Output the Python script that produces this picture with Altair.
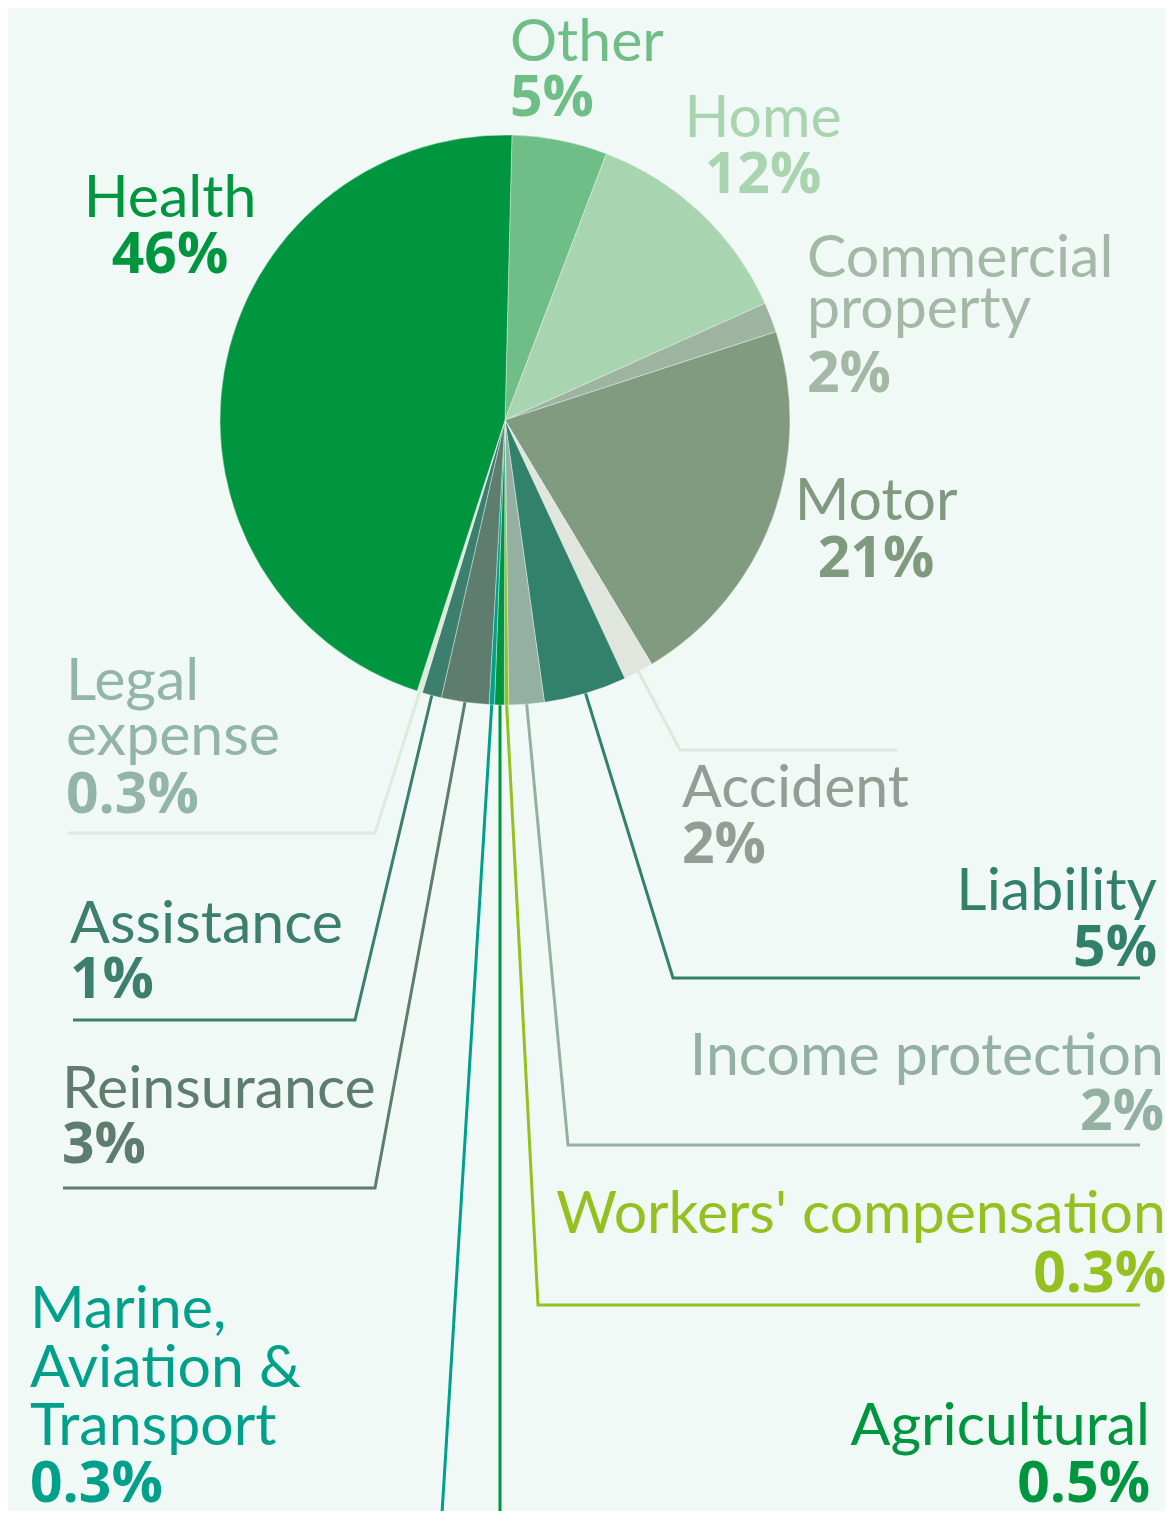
import math
import altair as alt
import pandas as pd

# ---- data ----
categories = ["Other", "Home", "Commercial property", "Motor", "Accident", "Liability",
              "Income protection", "Workers' compensation", "Agricultural",
              "Marine, Aviation & Transport", "Reinsurance", "Assistance",
              "Legal expense", "Health"]
# slice sizes as measured on the picture (sum ~100)
shares = [5.4, 12.5, 1.7, 21.4, 1.7, 4.7, 2.0, 0.25, 0.55, 0.3, 2.7, 1.1, 0.3, 45.4]
share_labels = ["5%", "12%", "2%", "21%", "2%", "5%", "2%", "0.3%", "0.5%", "0.3%",
                "3%", "1%", "0.3%", "46%"]
name_lines = [["Other"], ["Home"], ["Commercial", "property"], ["Motor"], ["Accident"],
              ["Liability"], ["Income protection"], ["Workers' compensation"],
              ["Agricultural"], ["Marine,", "Aviation &", "Transport"], ["Reinsurance"],
              ["Assistance"], ["Legal", "expense"], ["Health"]]

# ---- styles ----
slice_colors = ["#6fbd87", "#a8d4b0", "#9db5a0", "#819b80", "#e0e5de", "#32816a",
                "#94b0a3", "#94c11f", "#00963f", "#00a08a", "#5e7d6f", "#3d7f6d",
                "#dcebdc", "#00953f"]
text_colors = ["#6fbd87", "#a8d4b0", "#a3b9a5", "#7f9a7f", "#929e93", "#32806a",
               "#94b0a3", "#94c11f", "#00963f", "#00a08a", "#5e7d6f", "#3d7f6d",
               "#93b5a9", "#00953f"]
line_colors = [None, None, None, None, "#e0e5de", "#32816a", "#94b0a3", "#94c11f",
               "#00963f", "#00a08a", "#5e7d6f", "#3d7f6d", "#dcebdc", None]
BG = "#f1f9f7"

# ---- layout (page pixels) ----
OFF = 8
CX, CY, R = 505, 420, 285
START = math.radians(1.4)
label_x = [510, 763, 807, 876, 682, 1157, 1164, 1166, 1150, 30, 62, 70, 66, 170]
label_align = ["left", "center", "left", "center", "left", "right", "right", "right",
               "right", "left", "left", "left", "left", "center"]
name_base = [[61], [137], [277, 328], [520], [807], [910], [1075], [1233], [1445],
             [1328, 1387, 1445], [1108], [943], [700, 755], [217]]
pct_base = [116, 193, 392, 577, 863, 966, 1130, 1292, 1502, 1502, 1163, 998, 813, 273]
leader_pts = [None, None, None, None,
              [(680, 750), (897, 750)],
              [(673, 978), (1140, 978)],
              [(568, 1145), (1140, 1145)],
              [(538, 1305), (1140, 1305)],
              [(500, 1530)],
              [(441, 1530)],
              [(375, 1188), (63, 1188)],
              [(355, 1020), (73, 1020)],
              [(375, 833), (68, 833)],
              None]

# ---- tables ----
pie_df = pd.DataFrame({"category": categories, "share": shares,
                       "idx": list(range(len(categories)))})

total = sum(shares)
text_rows = []
line_rows = []
cum = 0.0
for i, cat in enumerate(categories):
    mid = START + 2 * math.pi * (cum + shares[i] / 2) / total
    cum += shares[i]
    for ln, yb in zip(name_lines[i], name_base[i]):
        text_rows.append({"t": ln, "x": label_x[i] - OFF, "y": yb - OFF,
                          "align": label_align[i], "kind": "name", "c": text_colors[i]})
    text_rows.append({"t": share_labels[i], "x": label_x[i] - OFF, "y": pct_base[i] - OFF,
                      "align": label_align[i], "kind": "pct", "c": text_colors[i]})
    if leader_pts[i]:
        sx = CX + (R - 2) * math.sin(mid)
        sy = CY - (R - 2) * math.cos(mid)
        if cat == "Agricultural":
            sx = 500
        pts = [(sx, sy)] + leader_pts[i]
        for k, (px, py) in enumerate(pts):
            line_rows.append({"cat": cat, "o": k, "x": px - OFF, "y": py - OFF,
                              "c": line_colors[i]})

text_df = pd.DataFrame(text_rows)
line_df = pd.DataFrame(line_rows)

lines = alt.Chart(line_df).mark_line(strokeWidth=3, strokeJoin="miter", strokeCap="butt").encode(
    x=alt.X("x:Q", scale=None),
    y=alt.Y("y:Q", scale=None),
    detail="cat:N",
    order="o:Q",
    color=alt.Color("c:N", scale=None),
)

pie = alt.Chart(pie_df).mark_arc(outerRadius=R, stroke=BG, strokeWidth=0.4).encode(
    theta=alt.Theta("share:Q", stack=True,
                    scale=alt.Scale(range=[START, START + 2 * math.pi])),
    order=alt.Order("idx:Q"),
    color=alt.Color("category:N", scale=alt.Scale(domain=categories, range=slice_colors),
                    legend=None),
    x=alt.value(CX - OFF),
    y=alt.value(CY - OFF),
)

text_layers = []
for al in ["left", "center", "right"]:
    for kind in ["name", "pct"]:
        if kind == "name":
            mk = alt.Chart(text_df).mark_text(align=al, baseline="alphabetic", font="Lato",
                                              fontSize=59, fontWeight="normal")
        else:
            mk = alt.Chart(text_df).mark_text(align=al, baseline="alphabetic",
                                              font="Open Sans", fontSize=57, fontWeight="bold")
        text_layers.append(
            mk.encode(
                x=alt.X("x:Q", scale=None),
                y=alt.Y("y:Q", scale=None),
                text="t:N",
                color=alt.Color("c:N", scale=None),
            ).transform_filter(
                (alt.datum.align == al) & (alt.datum.kind == kind)
            )
        )

chart = alt.layer(lines, pie, *text_layers).properties(
    width=1157, height=1503, padding=0, background=BG,
    autosize=alt.AutoSizeParams(type="none"),
).configure_view(stroke=None)

chart.save("out.html", embed_options={"renderer": "svg", "actions": False})
